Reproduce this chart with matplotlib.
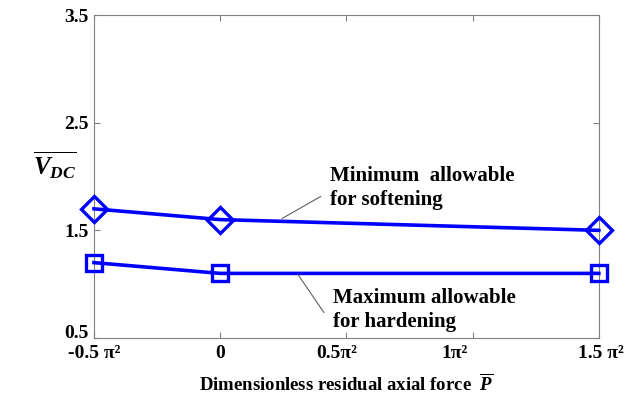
import matplotlib.pyplot as plt
from matplotlib.transforms import ScaledTranslation

plt.rcParams['font.family'] = 'Liberation Serif'
plt.rcParams['font.weight'] = 'bold'
plt.rcParams['axes.labelweight'] = 'bold'
plt.rcParams['mathtext.fontset'] = 'custom'
plt.rcParams['mathtext.rm'] = 'Liberation Serif:bold'
plt.rcParams['mathtext.it'] = 'Liberation Serif:italic:bold'

# data
p_vals = [-0.5, 0, 1.5]
v_soft = [1.7, 1.6, 1.5]
v_hard = [1.2, 1.1, 1.1]
x_ticks = [-0.5, 0, 0.5, 1, 1.5]
x_ticklabels = ['-0.5 π²', '0', '0.5π²', '1π²', '1.5 π²']
y_ticks = [0.5, 1.5, 2.5, 3.5]

fig = plt.figure(figsize=(6.33, 3.99), dpi=100)
ax = fig.add_axes([0.1485, 0.153, 0.7975, 0.809])

ax.plot(p_vals, v_soft, color='#0000ff', lw=2.6, marker='D', ms=13,
        mfc='none', mew=2.4, clip_on=False, zorder=3)
ax.plot(p_vals, v_hard, color='#0000ff', lw=2.6, marker='s', ms=12,
        mfc='none', mew=2.4, clip_on=False, zorder=3)

ax.set_xlim(-0.5, 1.5)
ax.set_ylim(0.5, 3.5)
ax.set_xticks(x_ticks)
ax.set_xticklabels(x_ticklabels)
ax.set_yticks(y_ticks)
ax.tick_params(direction='in', top=True, right=True, colors='#808080',
               labelcolor='black', labelsize=14, length=4)
ax.tick_params(axis='x', pad=5)
ax.tick_params(axis='y', pad=4)
# nudge tick labels like the original
for lab, dx in zip(ax.get_xticklabels(), [0, 0, -10, -18, 2]):
    lab.set_transform(lab.get_transform() + ScaledTranslation(dx / 100, 0, fig.dpi_scale_trans))
ylab0 = ax.get_yticklabels()[0]
ylab0.set_transform(ylab0.get_transform() + ScaledTranslation(0, 0.06, fig.dpi_scale_trans))
for s in ax.spines.values():
    s.set_color('#808080')

ax.set_xlabel(r'Dimensionless residual axial force  $\overline{P}$', fontsize=13.5, labelpad=8)
ax.text(-0.077, 0.535, r'$\overline{V_{DC}}$', transform=ax.transAxes,
        fontsize=18, ha='center', va='center')

# labels with leader lines
ax.annotate('Minimum  allowable\nfor softening', xy=(0.245, 1.61), xytext=(0.435, 2.1),
            fontsize=15, va='top', ha='left', linespacing=1.25,
            arrowprops=dict(arrowstyle='-', color='#606060', lw=0.8,
                            shrinkA=0, shrinkB=0, relpos=(-0.05, 0.3)))
ax.annotate('Maximum allowable\nfor hardening', xy=(0.308, 1.09), xytext=(0.447, 0.96),
            fontsize=15, va='top', ha='left', linespacing=1.25,
            arrowprops=dict(arrowstyle='-', color='#606060', lw=0.8,
                            shrinkA=0, shrinkB=0, relpos=(-0.05, 0.45)))

fig.savefig('out.png', dpi=100)
